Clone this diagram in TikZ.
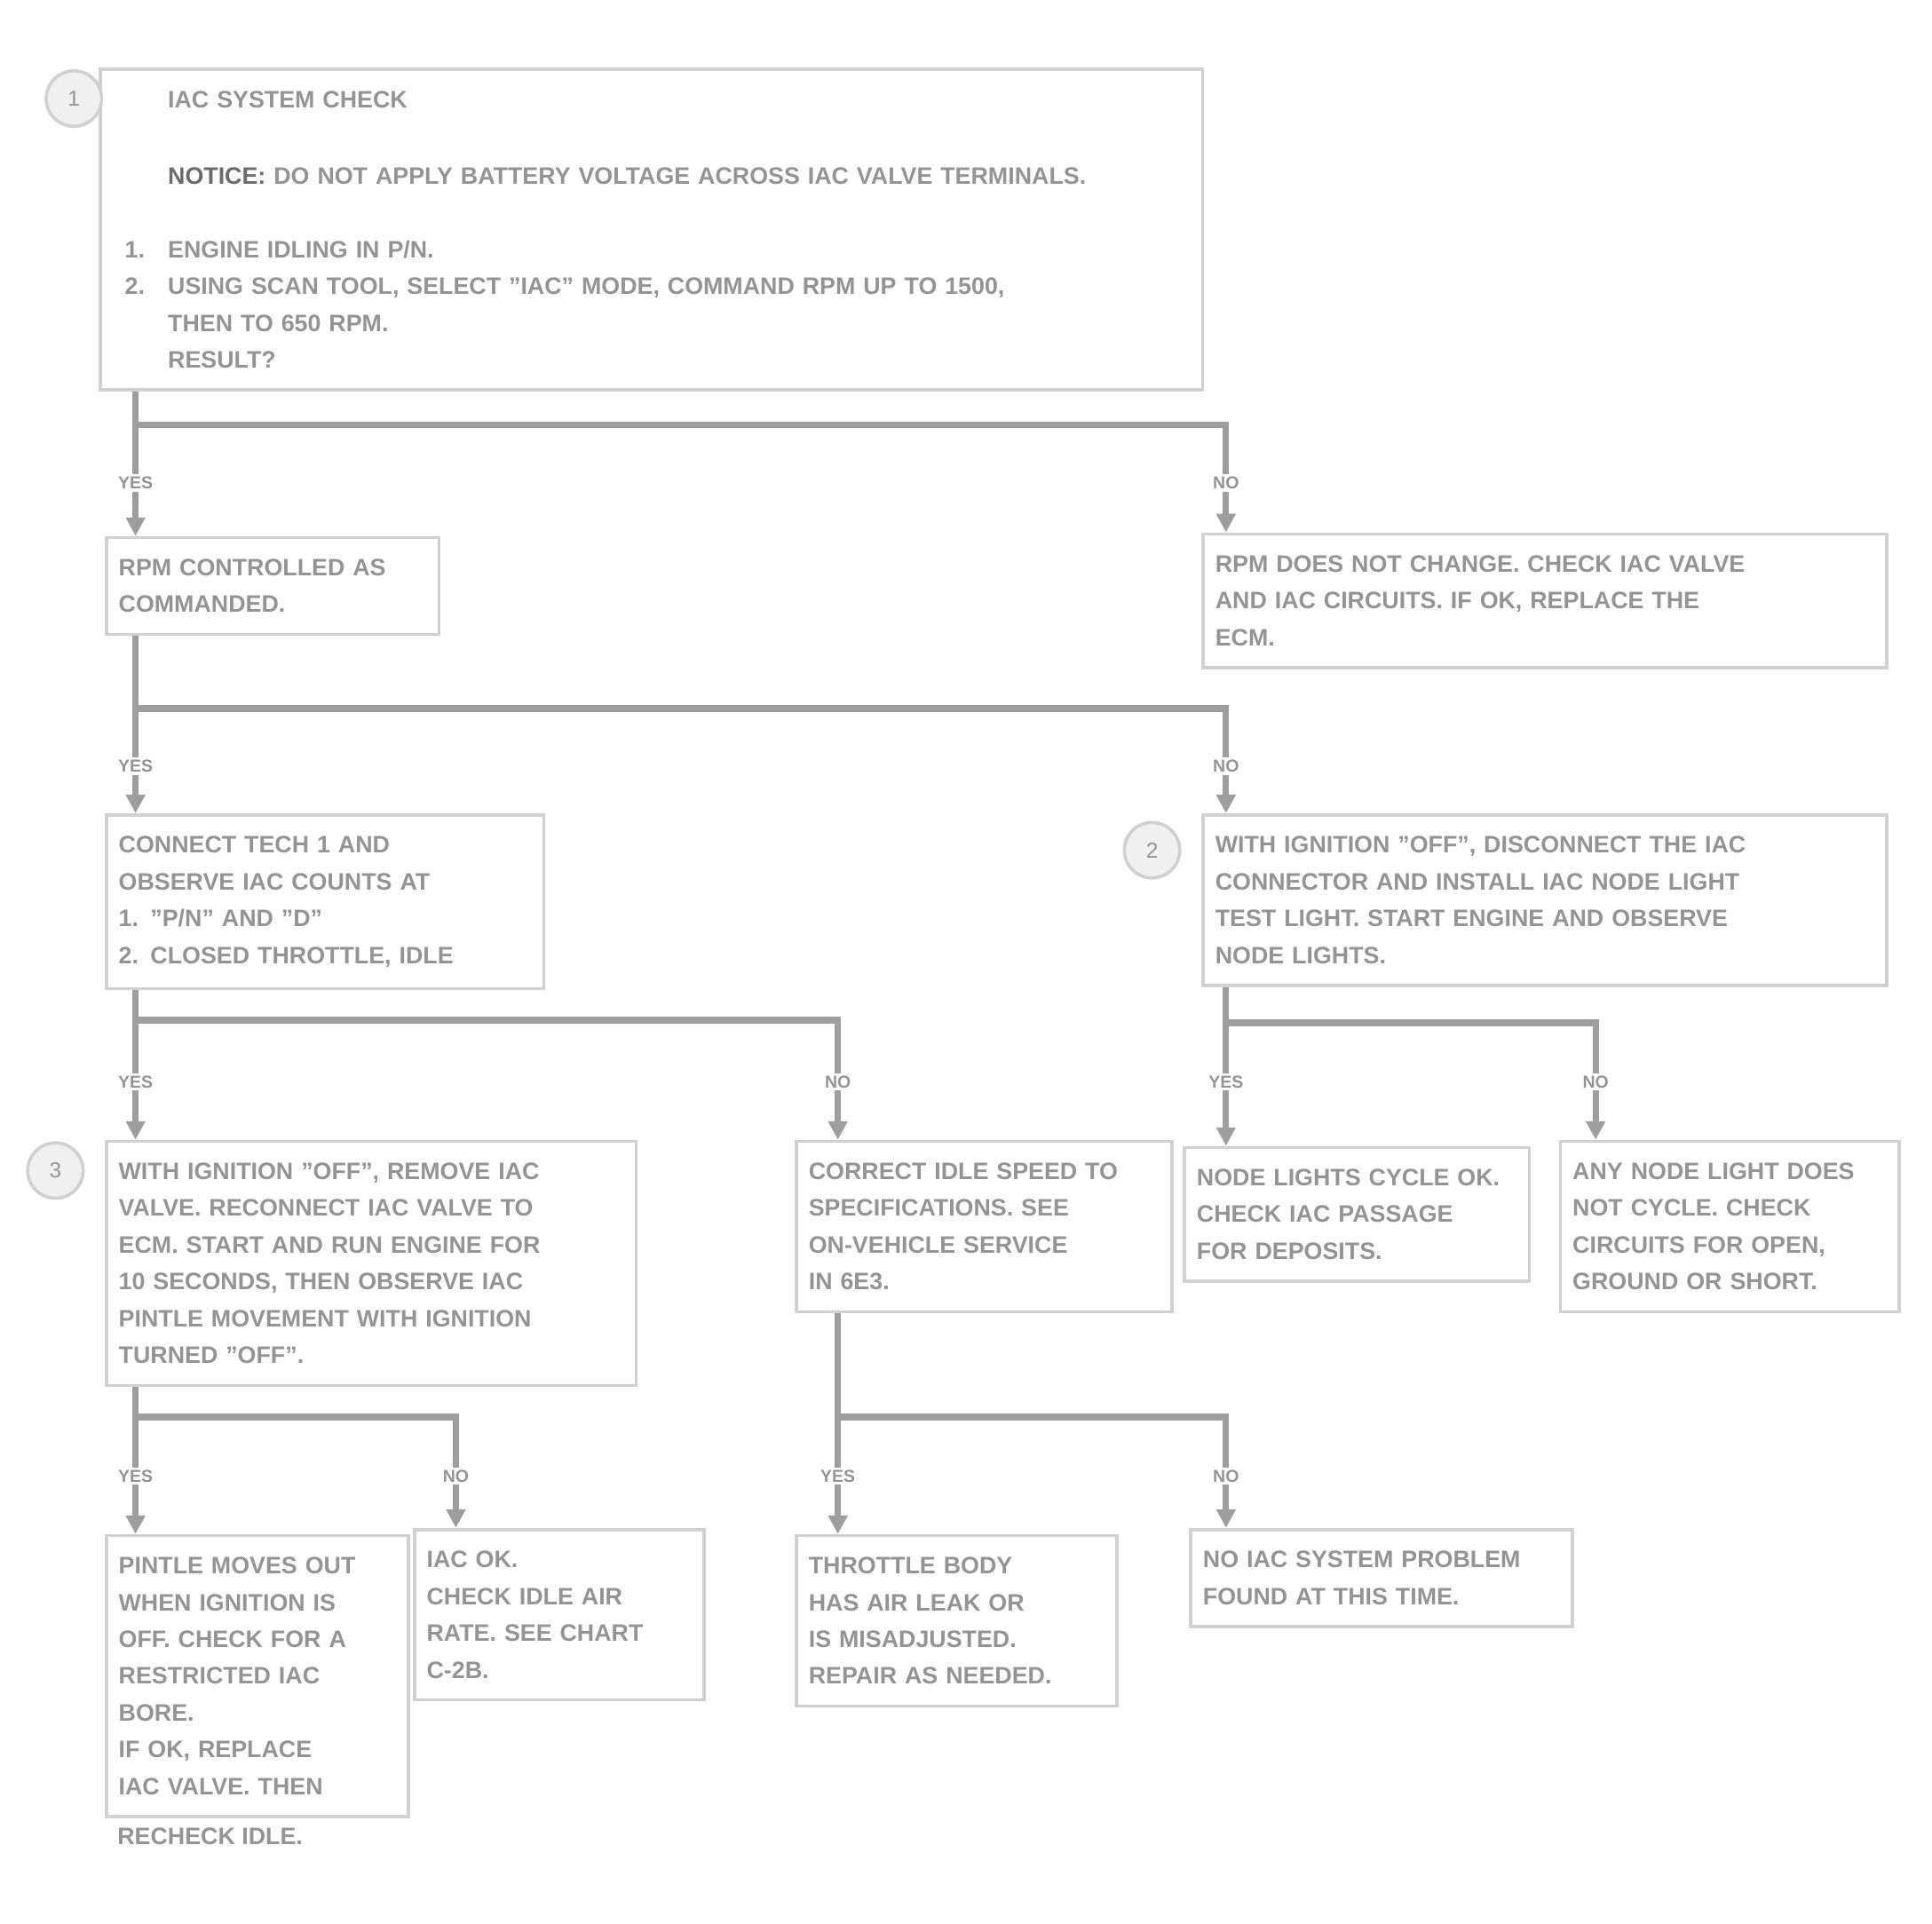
\documentclass[tikz,border=0pt]{standalone}
\usepackage{fontspec}
\setmainfont{Liberation Sans}
\usetikzlibrary{arrows.meta,positioning,calc}

\tikzset{
  chartbox/.style={draw=black!18, line width=1.5pt, anchor=north west, align=left,
    inner xsep=0.2cm, inner ysep=0.35cm, text=black!42, font=\fontsize{11}{17}\selectfont\bfseries},
  flow/.style={draw=black!38, line width=3pt},
  flowarrow/.style={flow, -{Triangle[length=0.3cm,width=0.3cm]}},
  answer/.style={fill=white, inner sep=1pt, text=black!42, font=\fontsize{8}{9}\selectfont\bfseries},
  stepnum/.style={circle, draw=black!18, fill=black!6, line width=1.5pt, minimum size=0.9cm,
    text=black!42, font=\fontsize{10}{10}\selectfont},
}

\begin{document}
\begin{tikzpicture}[x=0.02cm, y=-0.02cm]
	\useasboundingbox (0,0) rectangle (1568,1561.5);

	% first check
	\node[chartbox, text width=17.1cm, inner xsep=0.4cm] (check) at (80,55) {%
		\hspace*{0.7cm}IAC SYSTEM CHECK\\[0.64cm]
		\hspace*{0.7cm}\textcolor{black!58}{NOTICE:} DO NOT APPLY BATTERY VOLTAGE ACROSS IAC VALVE TERMINALS.\\[0.6cm]
		\makebox[0.7cm][l]{1.}ENGINE IDLING IN P/N.\\
		\makebox[0.7cm][l]{2.}USING SCAN TOOL, SELECT "IAC" MODE, COMMAND RPM UP TO 1500,\\
		\hspace*{0.7cm}THEN TO 650 RPM.\\
		\hspace*{0.7cm}RESULT?};
	\node[stepnum] (num1) at (60,80) {1};

	\node[chartbox, text width=5cm] (ok1) at (85,435) {RPM CONTROLLED AS\\ COMMANDED.};
	\node[chartbox, text width=10.7cm] (bad1) at (975,432) {RPM DOES NOT CHANGE. CHECK IAC VALVE\\ AND IAC CIRCUITS. IF OK, REPLACE THE\\ ECM.};

	\node[chartbox, text width=6.7cm] (counts) at (85,660) {CONNECT TECH 1 AND\\ OBSERVE IAC COUNTS AT\\ 1. "P/N" AND "D"\\ 2. CLOSED THROTTLE, IDLE};
	\node[chartbox, text width=10.7cm] (node) at (975,660) {WITH IGNITION "OFF", DISCONNECT THE IAC\\ CONNECTOR AND INSTALL IAC NODE LIGHT\\ TEST LIGHT. START ENGINE AND OBSERVE\\ NODE LIGHTS.};
	\node[stepnum] (num2) at (935,690) {2};

	\node[chartbox, text width=8.2cm] (pintle) at (85,925) {WITH IGNITION "OFF", REMOVE IAC\\ VALVE. RECONNECT IAC VALVE TO\\ ECM. START AND RUN ENGINE FOR\\ 10 SECONDS, THEN OBSERVE IAC\\ PINTLE MOVEMENT WITH IGNITION\\ TURNED "OFF".};
	\node[stepnum] (num3) at (45,950) {3};
	\node[chartbox, text width=5.7cm] (speed) at (645,925) {CORRECT IDLE SPEED TO\\ SPECIFICATIONS. SEE\\ ON-VEHICLE SERVICE\\ IN 6E3.};

	\node[chartbox, text width=5.2cm] (cycle) at (960,930) {NODE LIGHTS CYCLE OK.\\ CHECK IAC PASSAGE\\ FOR DEPOSITS.};
	\node[chartbox, text width=5.1cm] (nocycle) at (1265,925) {ANY NODE LIGHT DOES\\ NOT CYCLE. CHECK\\ CIRCUITS FOR OPEN,\\ GROUND OR SHORT.};

	\node[chartbox, text width=4.5cm] (moves) at (85,1245) {PINTLE MOVES OUT\\ WHEN IGNITION IS\\ OFF. CHECK FOR A\\ RESTRICTED IAC\\ BORE.\\ IF OK, REPLACE\\ IAC VALVE. THEN};
	\node[text=black!42, font=\fontsize{11}{17}\selectfont\bfseries, anchor=west, inner sep=0pt] (movestail) at (95,1490) {RECHECK IDLE.};
	\node[chartbox, text width=4.3cm] (still) at (335,1240) {IAC OK.\\ CHECK IDLE AIR\\ RATE. SEE CHART\\ C-2B.};

	\node[chartbox, text width=4.8cm] (leak) at (645,1245) {THROTTLE BODY\\ HAS AIR LEAK OR\\ IS MISADJUSTED.\\ REPAIR AS NEEDED.};
	\node[chartbox, text width=5.8cm] (fine) at (965,1240) {NO IAC SYSTEM PROBLEM\\ FOUND AT THIS TIME.};

	% split below the first check
	\coordinate (j1) at (110,345);
	\coordinate (j1r) at (995,345);
	\node[answer] (yes1) at (110,392) {YES};
	\node[answer] (no1) at (995,392) {NO};
	\draw[flow] (check.south -| j1) -- (j1) -- (j1r) -- (no1);
	\draw[flow] (j1) -- (yes1);
	\draw[flowarrow] (yes1) -- (ok1.north -| j1);
	\draw[flowarrow] (no1) -- (bad1.north -| j1r);

	% split below ok1
	\coordinate (j2) at (110,575);
	\coordinate (j2r) at (995,575);
	\node[answer] (yes2) at (110,622) {YES};
	\node[answer] (no2) at (995,622) {NO};
	\draw[flow] (ok1.south -| j2) -- (j2) -- (j2r) -- (no2);
	\draw[flow] (j2) -- (yes2);
	\draw[flowarrow] (yes2) -- (counts.north -| j2);
	\draw[flowarrow] (no2) -- (node.north -| j2r);

	% split below counts
	\coordinate (j3) at (110,828);
	\coordinate (j3r) at (680,828);
	\node[answer] (yes3) at (110,878) {YES};
	\node[answer] (no3) at (680,878) {NO};
	\draw[flow] (counts.south -| j3) -- (j3) -- (j3r) -- (no3);
	\draw[flow] (j3) -- (yes3);
	\draw[flowarrow] (yes3) -- (pintle.north -| j3);
	\draw[flowarrow] (no3) -- (speed.north -| j3r);

	% split below node
	\coordinate (j4) at (995,830);
	\coordinate (j4r) at (1295,830);
	\node[answer] (yes4) at (995,878) {YES};
	\node[answer] (no4) at (1295,878) {NO};
	\draw[flow] (node.south -| j4) -- (j4) -- (j4r) -- (no4);
	\draw[flow] (j4) -- (yes4);
	\draw[flowarrow] (yes4) -- (cycle.north -| j4);
	\draw[flowarrow] (no4) -- (nocycle.north -| j4r);

	% split below pintle
	\coordinate (j5) at (110,1150);
	\coordinate (j5r) at (370,1150);
	\node[answer] (yes5) at (110,1198) {YES};
	\node[answer] (no5) at (370,1198) {NO};
	\draw[flow] (pintle.south -| j5) -- (j5) -- (j5r) -- (no5);
	\draw[flow] (j5) -- (yes5);
	\draw[flowarrow] (yes5) -- (moves.north -| j5);
	\draw[flowarrow] (no5) -- (still.north -| j5r);

	% split below speed
	\coordinate (j6) at (680,1150);
	\coordinate (j6r) at (995,1150);
	\node[answer] (yes6) at (680,1198) {YES};
	\node[answer] (no6) at (995,1198) {NO};
	\draw[flow] (speed.south -| j6) -- (j6) -- (j6r) -- (no6);
	\draw[flow] (j6) -- (yes6);
	\draw[flowarrow] (yes6) -- (leak.north -| j6);
	\draw[flowarrow] (no6) -- (fine.north -| j6r);
\end{tikzpicture}
\end{document}
